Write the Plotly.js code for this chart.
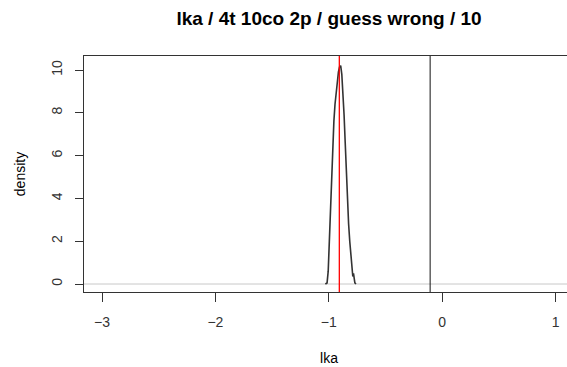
<!DOCTYPE html>
<html>
<head>
<meta charset="utf-8">
<script src="https://cdn.plot.ly/plotly-3.0.1.min.js"></script>
<style>
html,body{margin:0;padding:0;overflow:hidden;background:#fff;}
#chart{width:575px;height:367px;}
</style>
</head>
<body>
<div id="chart"></div>
<script>
// density curve of lka
const lkaX = [-1.03, -1.015, -1.005, -0.995, -0.99, -0.985, -0.975, -0.965, -0.955, -0.945, -0.935, -0.925, -0.915, -0.905, -0.895, -0.885, -0.875, -0.865, -0.855, -0.845, -0.835, -0.825, -0.815, -0.805, -0.795, -0.788, -0.782, -0.778, -0.77, -0.76];
const densityY = [0, 0.05, 0.6, 2.0, 3.2, 4.0, 5.2, 6.5, 7.6, 8.4, 9.0, 9.5, 9.9, 10.15, 10.2, 9.8, 9.0, 7.9, 6.6, 5.2, 3.9, 2.8, 2.0, 1.4, 0.8, 0.35, 0.5, 0.2, 0.05, 0];
const redLineX = -0.907;
const blackLineX = -0.106;
const xTicks = [-3, -2, -1, 0, 1];
const yTicks = [0, 2, 4, 6, 8, 10];

const traces = [{
  x: lkaX, y: densityY, type: 'scatter', mode: 'lines',
  line: {color: '#333', width: 1.6}, hoverinfo: 'skip'
}];

const layout = {
  width: 575, height: 367,
  margin: {l: 84, r: 1, t: 56, b: 75},
  paper_bgcolor: '#fff', plot_bgcolor: '#fff',
  showlegend: false,
  font: {family: 'Liberation Sans, Arial, sans-serif', size: 14, color: '#000'},
  title: {text: '<b>lka / 4t 10co 2p / guess wrong / 10</b>', x: 0.5, xref: 'paper', y: 0.95, yref: 'container', yanchor: 'middle', font: {size: 19, color: '#000'}},
  xaxis: {
    range: [-3.159, 1.163], tickvals: xTicks, ticktext: xTicks.map(v => v < 0 ? '\u2212' + Math.abs(v) : String(v)),
    ticks: 'outside', ticklen: 9, tickcolor: '#333', tickwidth: 1,
    ticklabelstandoff: 8,
    showline: true, mirror: true, linecolor: '#333', linewidth: 1,
    showgrid: false, zeroline: false,
    tickfont: {size: 14, color: '#333'},
    title: {text: 'lka', standoff: 24, font: {size: 14, color: '#000'}}
  },
  yaxis: {
    range: [-0.374, 10.654], tickvals: yTicks,
    ticks: 'outside', ticklen: 8, tickcolor: '#333', tickwidth: 1,
    tickangle: -90, ticklabelstandoff: 7,
    showline: true, mirror: false, linecolor: '#333', linewidth: 1,
    showgrid: false, zeroline: false,
    tickfont: {size: 14, color: '#333'},
    title: {text: 'density', standoff: 20, font: {size: 14, color: '#000'}}
  },
  shapes: [
    {type: 'line', xref: 'paper', x0: 0, x1: 1, yref: 'y', y0: 0, y1: 0, line: {color: '#c8c8c8', width: 1}, layer: 'below'},
    {type: 'line', xref: 'x', x0: blackLineX, x1: blackLineX, yref: 'paper', y0: 0, y1: 1, line: {color: '#111', width: 1}},
    {type: 'line', xref: 'x', x0: redLineX, x1: redLineX, yref: 'paper', y0: 0, y1: 1, line: {color: '#ff0000', width: 1.3}}
  ]
};

Plotly.newPlot('chart', traces, layout, {staticPlot: true, displayModeBar: false});
</script>
</body>
</html>
